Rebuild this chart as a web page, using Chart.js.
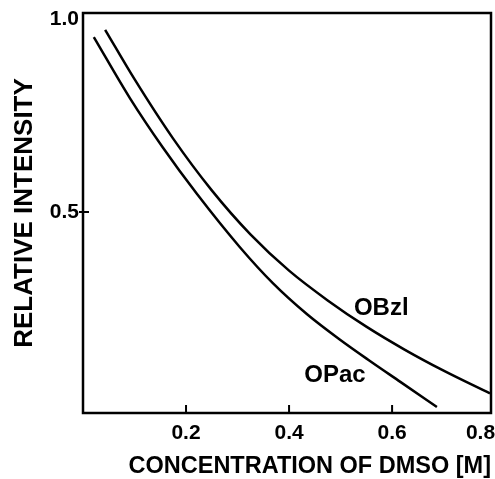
<!DOCTYPE html>
<html>
<head>
<meta charset="utf-8">
<script src="https://cdn.jsdelivr.net/npm/chart.js@4.4.1/dist/chart.umd.min.js"></script>
<style>
html,body{margin:0;padding:0;background:#fff;}
#wrap{width:495px;height:479px;}
</style>
</head>
<body>
<div id="wrap"><canvas id="c" width="495" height="479"></canvas></div>
<script>
// Data
const opacX = [0.021, 0.091, 0.155, 0.221, 0.305, 0.369, 0.435, 0.499, 0.557, 0.616, 0.687];
const opacY = [0.953, 0.795, 0.667, 0.547, 0.408, 0.315, 0.235, 0.169, 0.114, 0.060, -0.005];
const obzlX = [0.043, 0.100, 0.175, 0.250, 0.325, 0.400, 0.475, 0.550, 0.625, 0.700, 0.790];
const obzlY = [0.972, 0.844, 0.690, 0.556, 0.442, 0.348, 0.271, 0.203, 0.143, 0.089, 0.030];
const seriesNames = ['OPac', 'OBzl'];
const xTickValues = [0, 0.2, 0.4, 0.6, 0.8];
const yTickValues = [0.5, 1.0];
const xMarkValues = [0.2, 0.4, 0.6];
const yMarkValues = [0.5];
const xTitle = 'CONCENTRATION OF DMSO [M]';
const yTitle = 'RELATIVE INTENSITY';

// label anchors (data coordinates) for the curve names
const curveLabels = [
  {text: seriesNames[1], x: 0.579, y: 0.251},
  {text: seriesNames[0], x: 0.489, y: 0.078}
];

const FONT = '"Liberation Sans", Arial, Helvetica, sans-serif';

function pts(xs, ys){ return xs.map((v,i)=>({x:v, y:ys[i]})); }

const decor = {
  id: 'decor',
  afterDatasetsDraw(chart){
    const {ctx, chartArea: a, scales: {x, y}} = chart;
    ctx.save();
    ctx.strokeStyle = '#000';
    ctx.lineWidth = 2.5;
    ctx.strokeRect(a.left, a.top, a.right - a.left, a.bottom - a.top);
    ctx.lineWidth = 2;
    ctx.beginPath();
    xMarkValues.forEach(v => {
      const px = x.getPixelForValue(v);
      ctx.moveTo(px, a.bottom + 1);
      ctx.lineTo(px, a.bottom - 8);
    });
    yMarkValues.forEach(v => {
      const py = y.getPixelForValue(v);
      ctx.moveTo(a.left - 4, py);
      ctx.lineTo(a.left + 6, py);
    });
    ctx.stroke();
    ctx.fillStyle = '#000';
    ctx.font = 'bold 24px ' + FONT;
    ctx.textAlign = 'center';
    ctx.textBaseline = 'middle';
    curveLabels.forEach(l => {
      ctx.fillText(l.text, x.getPixelForValue(l.x), y.getPixelForValue(l.y));
    });
    ctx.restore();
  }
};

new Chart(document.getElementById('c'), {
  type: 'line',
  data: {
    datasets: [
      {label: seriesNames[0], data: pts(opacX, opacY)},
      {label: seriesNames[1], data: pts(obzlX, obzlY)}
    ]
  },
  options: {
    responsive: false,
    animation: false,
    events: [],
    layout: {padding: {top: 13, right: 4, bottom: 0, left: 0}},
    elements: {
      point: {radius: 0},
      line: {borderColor: '#000', borderWidth: 2.5, cubicInterpolationMode: 'monotone', fill: false}
    },
    plugins: {legend: {display: false}, tooltip: {enabled: false}},
    scales: {
      x: {
        type: 'linear',
        min: 0,
        max: 0.792,
        afterBuildTicks: s => { s.ticks = xTickValues.map(v => ({value: v})); },
        afterFit: s => { s.height = 66; s.paddingLeft = 0; s.paddingRight = 0; },
        grid: {display: false, drawTicks: false},
        border: {display: false},
        ticks: {
          autoSkip: false,
          align: 'inner',
          padding: 8,
          color: '#000',
          font: {family: FONT, size: 21, weight: 'bold'},
          callback: v => v === 0 ? '' : v.toFixed(1)
        },
        title: {
          display: true,
          text: xTitle,
          align: 'end',
          color: '#000',
          padding: {top: 0, bottom: -2},
          font: {family: FONT, size: 23.5, weight: 'bold'}
        }
      },
      y: {
        type: 'linear',
        min: -0.0207,
        max: 1.0155,
        afterBuildTicks: s => { s.ticks = yTickValues.map(v => ({value: v})); },
        afterFit: s => { s.width = 83; s.paddingTop = 0; s.paddingBottom = 0; },
        grid: {display: false, drawTicks: false},
        border: {display: false},
        ticks: {
          autoSkip: false,
          padding: 4,
          color: '#000',
          font: {family: FONT, size: 21, weight: 'bold'},
          callback: v => v.toFixed(1)
        },
        title: {
          display: true,
          text: yTitle,
          color: '#000',
          padding: {top: 9, bottom: 0},
          font: {family: FONT, size: 26, weight: 'bold'}
        }
      }
    }
  },
  plugins: [decor]
});
</script>
</body>
</html>
